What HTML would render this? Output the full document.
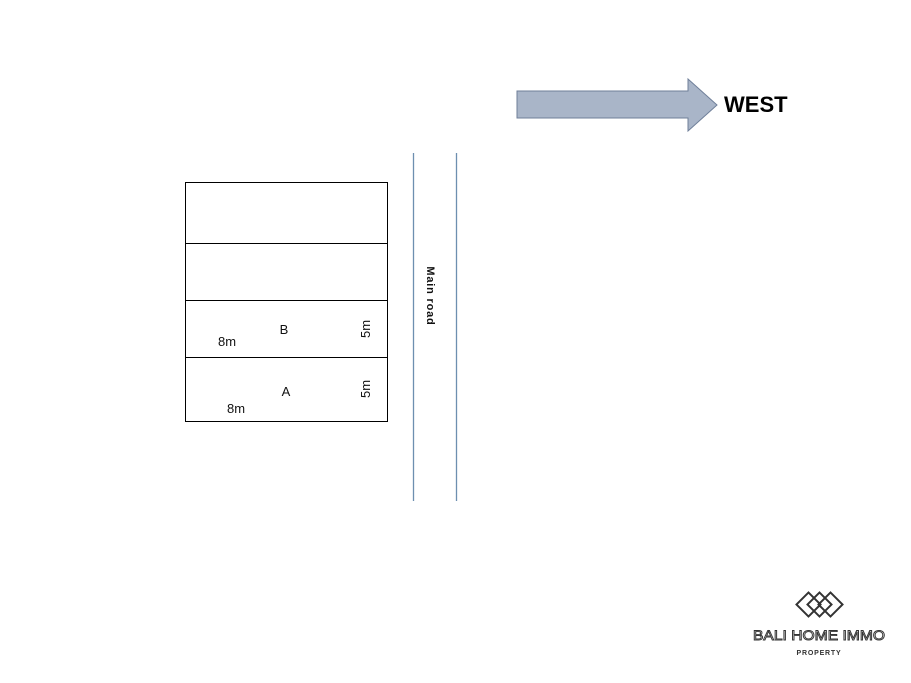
<!DOCTYPE html>
<html><head><meta charset="utf-8"><style>
html,body{margin:0;padding:0;background:#fff;}
svg{display:block;}
</style></head><body>
<svg width="911" height="683" xmlns="http://www.w3.org/2000/svg" font-family="Liberation Sans, sans-serif">
<polygon points="517,91 688,91 688,79 717,105 688,131 688,118 517,118" fill="#a9b5c8" stroke="#6f7f99" stroke-width="1"/>
<text x="724" y="112" font-size="22" font-weight="bold" fill="#000">WEST</text>
<rect x="185.5" y="182.5" width="202" height="239" fill="none" stroke="#000" stroke-width="1"/>
<line x1="185" y1="243.5" x2="387" y2="243.5" stroke="#000"/>
<line x1="185" y1="300.5" x2="387" y2="300.5" stroke="#000"/>
<line x1="185" y1="357.5" x2="387" y2="357.5" stroke="#000"/>
<g font-size="13" fill="#111">
<text x="284" y="334" text-anchor="middle">B</text>
<text x="227" y="346" text-anchor="middle">8m</text>
<text x="286" y="396" text-anchor="middle">A</text>
<text x="236" y="413" text-anchor="middle">8m</text>
<text transform="translate(370,329) rotate(-90)" text-anchor="middle">5m</text>
<text transform="translate(370,389) rotate(-90)" text-anchor="middle">5m</text>
</g>
<line x1="413.5" y1="153" x2="413.5" y2="501" stroke="#6d8fb0" stroke-width="1.3"/>
<line x1="456.5" y1="153" x2="456.5" y2="501" stroke="#6d8fb0" stroke-width="1.3"/>
<text transform="translate(427,296) rotate(90)" text-anchor="middle" font-size="11" font-weight="bold" letter-spacing="0.8" fill="#111">Main road</text>
<g fill="none" stroke="#333" stroke-width="2">
<rect x="800" y="596" width="17" height="17" transform="rotate(45 808.5 604.5)"/>
<rect x="811" y="596" width="17" height="17" transform="rotate(45 819.5 604.5)"/>
<rect x="822" y="596" width="17" height="17" transform="rotate(45 830.5 604.5)"/>
</g>
<text x="819" y="640" text-anchor="middle" font-size="14" textLength="132" lengthAdjust="spacingAndGlyphs" fill="#fff" stroke="#333" stroke-width="0.9">BALI HOME IMMO</text>
<text x="819" y="655" text-anchor="middle" font-size="7" font-weight="bold" letter-spacing="0.8" fill="#333">PROPERTY</text>
</svg>
</body></html>
